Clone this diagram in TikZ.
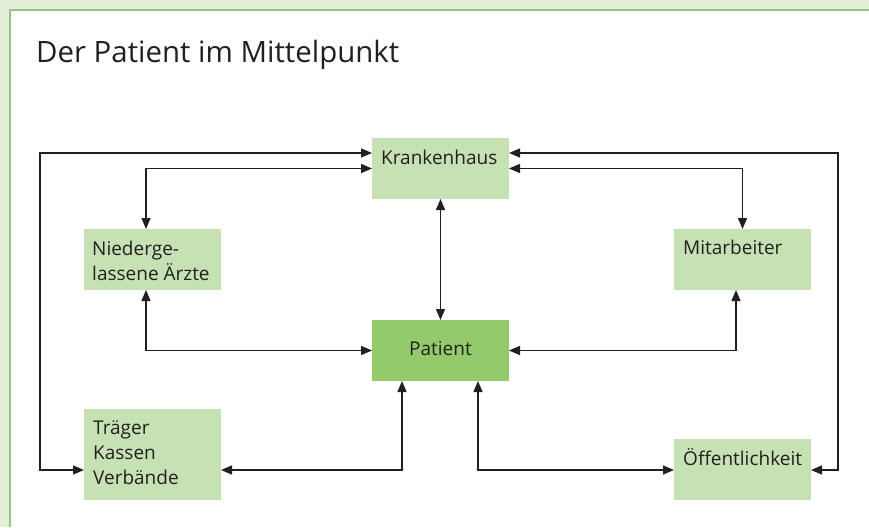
\documentclass[tikz,border=0pt]{standalone}
\usepackage{fontspec}
\setmainfont{Open Sans}
\usetikzlibrary{arrows.meta,calc}
\definecolor{bgout}{HTML}{E2EFD9}
\definecolor{frame}{HTML}{9BC283}
\definecolor{boxg}{HTML}{C6E1B4}
\definecolor{boxp}{HTML}{93CA6C}
\definecolor{ink}{HTML}{231F20}
\newcommand{\lines}[1]{\begin{tabular}[t]{@{}l@{}}#1\end{tabular}}
\tikzset{
  box/.style={fill=boxg, draw=none, minimum width=137pt, minimum height=61pt, inner sep=0pt, outer sep=0pt},
  pbox/.style={box, fill=boxp},
  lbl/.style={anchor=base west, inner sep=0pt, text=ink, font=\fontsize{19}{25}\selectfont},
  conn/.style={draw=ink, line width=1.4pt, {Triangle[length=11pt,width=9pt]}-{Triangle[length=11pt,width=9pt]}},
}
\begin{document}
\begin{tikzpicture}[x=1pt,y=-1pt]
\useasboundingbox (0,0) rectangle (869,527);
\fill[bgout] (0,0) rectangle (869,527);
\fill[white] (10,10) rectangle (869,527);
\draw[frame, line width=2pt] (10,527) -- (10,10) -- (869,10);
\node[anchor=base west, inner sep=0pt, text=ink, font=\fontsize{29.4}{34}\selectfont] (title) at (36,63) {Der Patient im Mittelpunkt};
% boxes
\node[box] (kh) at (440.5,168.5) {};
\node[box] (na) at (152.5,259.5) {};
\node[box] (ma) at (742.5,259.5) {};
\node[pbox] (pa) at (440.5,350.5) {};
\node[box, minimum height=91pt] (tr) at (152.5,454.5) {};
\node[box] (of) at (742.5,469.5) {};
% labels
\node[lbl] (khl) at ($(kh.north west)+(9,26)$) {Krankenhaus};
\node[lbl] (nal) at ($(na.north west)+(8,26)$) {\lines{Niederge-\\lassene Ärzte}};
\node[lbl] (mal) at ($(ma.north west)+(9,25)$) {Mitarbeiter};
\node[lbl, anchor=base] (pal) at ($(pa.center)+(0,5)$) {Patient};
\node[lbl] (trl) at ($(tr.north west)+(9,25)$) {\lines{Träger\\Kassen\\Verbände}};
\node[lbl] (ofl) at ($(of.north west)+(9,26)$) {Öffentlichkeit};
% helper coordinates
\coordinate (yA) at (0,153);
\coordinate (yB) at (0,470);
\coordinate (xL) at (40,0);
\coordinate (xR) at (838,0);
\coordinate (xNA) at (146,0);
\coordinate (xMA) at (736,0);
\coordinate (xP1) at (402,0);
\coordinate (xP2) at (478,0);
% connectors
\draw[conn] (kh.west |- yA) -- (xL |- yA) -- (xL |- yB) -- (tr.west |- yB);
\draw[conn] (kh.west) -| (xNA |- na.north);
\draw[conn] (kh.east |- yA) -- (xR |- yA) -- (xR |- yB) -- (of.east |- yB);
\draw[conn] (kh.east) -| (ma.north);
\draw[conn] (kh.south) -- (pa.north);
\draw[conn] (xNA |- na.south) |- (pa.west);
\draw[conn] (xMA |- ma.south) |- (pa.east);
\draw[conn] (tr.east |- yB) -| (xP1 |- pa.south);
\draw[conn] (of.west |- yB) -| (xP2 |- pa.south);
\end{tikzpicture}
\end{document}
